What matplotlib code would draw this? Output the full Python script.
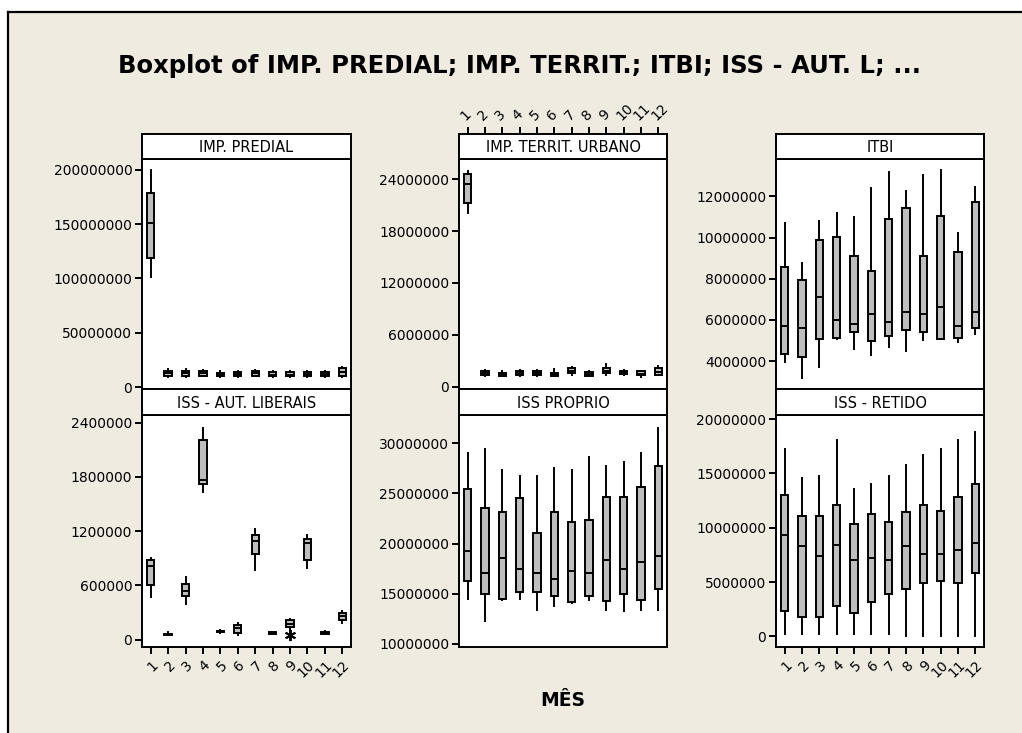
import matplotlib
matplotlib.use("Agg")
import matplotlib.pyplot as plt
from matplotlib.lines import Line2D
from matplotlib.patches import Rectangle

W, H = 1022, 733
DPI = 100

months = [str(m) for m in range(1, 13)]

# (whisker low, Q1, median, Q3, whisker high) per month
imp_predial = [
    (101.6e6, 119.0e6, 150.8e6, 179.0e6, 200.0e6),
    (9.5e6, 10.0e6, 12.5e6, 15.0e6, 17.0e6),
    (9.5e6, 10.0e6, 12.5e6, 15.0e6, 17.0e6),
    (10.0e6, 10.0e6, 12.5e6, 15.0e6, 15.5e6),
    (9.5e6, 10.0e6, 11.5e6, 13.0e6, 14.5e6),
    (9.5e6, 10.0e6, 12.0e6, 13.5e6, 15.0e6),
    (9.8e6, 10.0e6, 12.5e6, 15.0e6, 15.5e6),
    (9.5e6, 10.0e6, 11.5e6, 13.5e6, 14.5e6),
    (9.5e6, 10.0e6, 11.5e6, 13.5e6, 14.5e6),
    (9.5e6, 10.0e6, 12.0e6, 13.5e6, 15.0e6),
    (9.5e6, 10.0e6, 12.0e6, 13.5e6, 15.0e6),
    (9.5e6, 10.0e6, 13.5e6, 17.5e6, 18.0e6),
]
imp_territ = [
    (20.1e6, 21.3e6, 23.5e6, 24.57e6, 25.0e6),
    (1.25e6, 1.30e6, 1.60e6, 1.85e6, 1.90e6),
    (1.20e6, 1.25e6, 1.45e6, 1.60e6, 1.80e6),
    (1.25e6, 1.30e6, 1.60e6, 1.85e6, 1.90e6),
    (1.25e6, 1.30e6, 1.60e6, 1.85e6, 1.90e6),
    (1.20e6, 1.25e6, 1.45e6, 1.60e6, 2.00e6),
    (1.30e6, 1.60e6, 1.85e6, 2.20e6, 2.25e6),
    (1.20e6, 1.25e6, 1.50e6, 1.75e6, 1.80e6),
    (1.30e6, 1.55e6, 1.85e6, 2.15e6, 2.60e6),
    (1.30e6, 1.50e6, 1.65e6, 1.85e6, 1.90e6),
    (1.10e6, 1.30e6, 1.50e6, 1.80e6, 1.85e6),
    (1.30e6, 1.35e6, 1.70e6, 2.20e6, 2.40e6),
]
itbi = [
    (3.94e6, 4.32e6, 5.70e6, 8.59e6, 10.69e6),
    (3.16e6, 4.21e6, 5.62e6, 7.94e6, 8.78e6),
    (3.72e6, 5.05e6, 7.10e6, 9.88e6, 10.82e6),
    (5.05e6, 5.13e6, 5.98e6, 10.05e6, 11.18e6),
    (4.57e6, 5.43e6, 5.80e6, 9.12e6, 10.99e6),
    (4.28e6, 4.96e6, 6.29e6, 8.38e6, 12.40e6),
    (4.66e6, 5.23e6, 5.88e6, 10.89e6, 13.21e6),
    (4.49e6, 5.51e6, 6.37e6, 11.44e6, 12.28e6),
    (5.02e6, 5.43e6, 6.29e6, 9.12e6, 13.04e6),
    (5.05e6, 5.05e6, 6.64e6, 11.07e6, 13.29e6),
    (4.94e6, 5.13e6, 5.72e6, 9.32e6, 10.24e6),
    (5.31e6, 5.60e6, 6.37e6, 11.73e6, 12.48e6),
]
iss_aut_liberais = [
    (473e3, 609e3, 820e3, 886e3, 905e3),
    (50e3, 55e3, 60e3, 65e3, 80e3),
    (391e3, 480e3, 539e3, 613e3, 694e3),
    (1636e3, 1720e3, 1765e3, 2208e3, 2337e3),
    (75e3, 85e3, 92e3, 100e3, 105e3),
    (48e3, 74e3, 133e3, 159e3, 185e3),
    (768e3, 945e3, 1093e3, 1156e3, 1222e3),
    (62e3, 65e3, 72e3, 80e3, 82e3),
    (122e3, 140e3, 177e3, 214e3, 225e3),
    (794e3, 879e3, 1071e3, 1115e3, 1159e3),
    (62e3, 66e3, 74e3, 85e3, 96e3),
    (185e3, 222e3, 262e3, 295e3, 318e3),
]
iss_aut_liberais_outliers = {9: [48e3]}
iss_proprio = [
    (14.50e6, 16.23e6, 19.30e6, 25.43e6, 29.07e6),
    (12.27e6, 14.97e6, 17.07e6, 23.57e6, 29.43e6),
    (14.40e6, 14.50e6, 18.57e6, 23.13e6, 27.33e6),
    (14.50e6, 15.13e6, 17.43e6, 24.50e6, 26.77e6),
    (13.40e6, 15.13e6, 17.07e6, 21.03e6, 26.77e6),
    (13.77e6, 14.73e6, 16.47e6, 23.13e6, 27.50e6),
    (14.07e6, 14.17e6, 17.23e6, 22.17e6, 27.33e6),
    (14.33e6, 14.73e6, 17.07e6, 22.37e6, 28.67e6),
    (13.40e6, 14.23e6, 18.37e6, 24.67e6, 27.70e6),
    (13.23e6, 14.97e6, 17.43e6, 24.67e6, 28.10e6),
    (13.40e6, 14.37e6, 18.17e6, 25.60e6, 29.07e6),
    (13.40e6, 15.50e6, 18.77e6, 27.70e6, 31.50e6),
]
iss_retido = [
    (0.18e6, 2.33e6, 9.31e6, 13.00e6, 17.20e6),
    (0.18e6, 1.78e6, 8.29e6, 11.06e6, 14.59e6),
    (0.18e6, 1.78e6, 7.40e6, 11.06e6, 14.75e6),
    (0.18e6, 2.83e6, 8.45e6, 12.10e6, 18.06e6),
    (0.18e6, 2.15e6, 7.00e6, 10.35e6, 13.55e6),
    (0.18e6, 3.20e6, 7.22e6, 11.24e6, 14.04e6),
    (0.18e6, 3.90e6, 7.00e6, 10.51e6, 14.75e6),
    (0.00e6, 4.39e6, 8.29e6, 11.40e6, 15.79e6),
    (0.00e6, 4.95e6, 7.59e6, 12.10e6, 16.68e6),
    (0.00e6, 5.10e6, 7.59e6, 11.58e6, 17.20e6),
    (0.00e6, 4.95e6, 7.93e6, 12.81e6, 18.06e6),
    (0.00e6, 5.84e6, 8.63e6, 14.04e6, 18.80e6),
]

title = "Boxplot of IMP. PREDIAL; IMP. TERRIT.; ITBI; ISS - AUT. L; ..."
xlabel = "MÊS"

BG = "#EFEBE1"
BOX_FILL = "#BEBEBE"
LW = 1.4
FONT = "DejaVu Sans"

plt.rcParams["font.family"] = FONT

fig = plt.figure(figsize=(W / DPI, H / DPI), dpi=DPI, facecolor="white")

# beige canvas with black frame on its left and top edges
fig.patches.append(Rectangle((8 / W, 0), 1, 1 - 12 / H, transform=fig.transFigure,
                             facecolor=BG, edgecolor="none", zorder=-10))
fig.lines.append(Line2D([8 / W, 8 / W], [0, 1 - 12 / H], transform=fig.transFigure,
                        color="black", lw=1.6))
fig.lines.append(Line2D([8 / W, 1], [1 - 12 / H, 1 - 12 / H], transform=fig.transFigure,
                        color="black", lw=1.6))


def px_axes(x0, y0, x1, y1):
    return fig.add_axes([x0 / W, 1 - y1 / H, (x1 - x0) / W, (y1 - y0) / H])


col_x = [(142, 351), (459, 667), (776, 984)]
rows = [((134, 159), (159, 389)), ((389, 415), (415, 647))]

panels = [
    ("IMP. PREDIAL", imp_predial, {}, (-1.84e6, 210.1e6), range(0, 200000001, 50000000)),
    ("IMP. TERRIT. URBANO", imp_territ, {}, (-0.27e6, 26.35e6), range(0, 24000001, 6000000)),
    ("ITBI", itbi, {}, (2.64e6, 13.82e6), range(4000000, 12000001, 2000000)),
    ("ISS - AUT. LIBERAIS", iss_aut_liberais, iss_aut_liberais_outliers, (-81e3, 2485e3),
     range(0, 2400001, 600000)),
    ("ISS PROPRIO", iss_proprio, {}, (9.67e6, 32.83e6), range(10000000, 30000001, 5000000)),
    ("ISS - RETIDO", iss_retido, {}, (-0.98e6, 20.37e6), range(0, 20000001, 5000000)),
]

tick_fs = 10
for idx, (name, stats, outliers, ylim, yticks) in enumerate(panels):
    r, c = divmod(idx, 3)
    (hy0, hy1), (py0, py1) = rows[r]
    x0, x1 = col_x[c]

    ax = px_axes(x0, py0, x1, py1)
    ax.set_facecolor("white")
    bxp_stats = []
    for i, (lo, q1, med, q3, hi) in enumerate(stats, start=1):
        bxp_stats.append(dict(whislo=lo, q1=q1, med=med, q3=q3, whishi=hi,
                              fliers=outliers.get(i, [])))
    ax.bxp(bxp_stats, positions=range(1, 13), widths=0.42, patch_artist=True,
           showcaps=False,
           boxprops=dict(facecolor=BOX_FILL, edgecolor="black", linewidth=LW),
           medianprops=dict(color="black", linewidth=LW),
           whiskerprops=dict(color="black", linewidth=LW),
           flierprops=dict(marker=(6, 2, 0), markersize=8, markeredgecolor="black",
                           markeredgewidth=1.4, linestyle="none"))
    ax.set_xlim(0.5, 12.5)
    ax.set_ylim(*ylim)
    ax.set_yticks(list(yticks))
    ax.set_yticklabels([str(v) for v in yticks], fontsize=tick_fs)
    for s in ax.spines.values():
        s.set_linewidth(LW)
    ax.tick_params(axis="y", direction="out", length=5, width=LW, pad=2)

    ax.set_xticks(range(1, 13))
    if r == 1 and c != 1:
        ax.set_xticklabels(months, fontsize=tick_fs, rotation=45, ha="right", va="top",
                           rotation_mode="anchor")
        ax.tick_params(axis="x", direction="out", length=5, width=LW, pad=3)
    else:
        ax.tick_params(axis="x", bottom=False, labelbottom=False)

    # strip header with the series name
    hax = px_axes(x0, hy0, x1, hy1)
    hax.set_facecolor("white")
    hax.set_xlim(0.5, 12.5)
    hax.set_yticks([])
    for s in hax.spines.values():
        s.set_linewidth(LW)
    if r == 0 and c == 1:
        # month ticks sit above the header of the centre panel
        hax.set_xticks(range(1, 13))
        hax.xaxis.tick_top()
        hax.set_xticklabels(months, fontsize=tick_fs, rotation=45, ha="left", va="bottom",
                            rotation_mode="anchor")
        hax.tick_params(axis="x", direction="out", length=5, width=LW, pad=3,
                        top=True, bottom=False)
    else:
        hax.set_xticks([])
    hax.text(0.5, 0.45, name, ha="center", va="center", fontsize=10.5,
             transform=hax.transAxes)

fig.text(520 / W, 1 - 66 / H, title, ha="center", va="center", fontsize=17.5,
         fontweight="bold")
fig.text(563 / W, 1 - 701 / H, xlabel, ha="center", va="center", fontsize=13.5,
         fontweight="bold")

fig.savefig("out.png", dpi=DPI, facecolor="white")
